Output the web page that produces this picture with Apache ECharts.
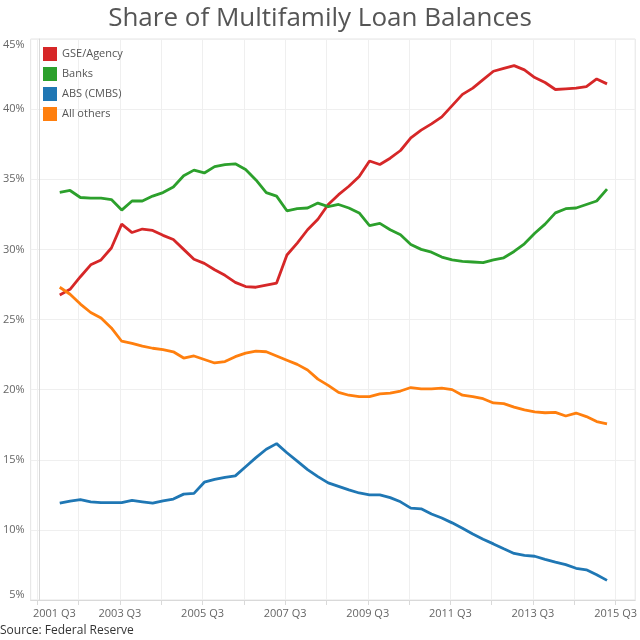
<!DOCTYPE html>
<html>
<head>
<meta charset="utf-8">
<script src="https://cdn.jsdelivr.net/npm/echarts@6/dist/echarts.min.js"></script>
<style>
  html, body { margin: 0; padding: 0; background: #fff; }
  #chart { width: 640px; height: 640px; }
</style>
</head>
<body>
<div id="chart"></div>
<script>
// quarters counted from 2001 Q3 (= 0); data run 2002 Q1 .. 2015 Q2
const firstQuarter = 2
const tickShift = 0.17 // tableau puts the quarter ticks a bit before the points
const seriesNames = ['GSE/Agency', 'Banks', 'ABS (CMBS)', 'All others']
const seriesColors = ['#d62728', '#2ca02c', '#1f77b4', '#ff7f0e']
const tickLabels = ['2001 Q3', '2003 Q3', '2005 Q3', '2007 Q3', '2009 Q3', '2011 Q3', '2013 Q3', '2015 Q3']

const gseAgency = [
  26.75, 27.15, 28.05, 28.9, 29.25, 30.1, 31.8, 31.2, 31.45, 31.35,
  31.0, 30.7, 30.0, 29.3, 29.0, 28.55, 28.15, 27.65, 27.35, 27.3,
  27.45, 27.6, 29.6, 30.45, 31.4, 32.15, 33.2, 33.9, 34.5, 35.2,
  36.3, 36.05, 36.5, 37.05, 37.95, 38.5, 38.95, 39.45, 40.25, 41.05,
  41.5, 42.1, 42.7, 42.9, 43.1, 42.8, 42.25, 41.9, 41.4, 41.45,
  41.5, 41.6, 42.15, 41.8
]
const banks = [
  34.07, 34.2, 33.7, 33.65, 33.65, 33.55, 32.8, 33.45, 33.45, 33.8,
  34.05, 34.45, 35.25, 35.65, 35.45, 35.9, 36.05, 36.1, 35.7, 34.95,
  34.05, 33.8, 32.75, 32.9, 32.95, 33.3, 33.05, 33.2, 32.95, 32.6,
  31.7, 31.85, 31.4, 31.05, 30.35, 30.0, 29.8, 29.45, 29.25, 29.15,
  29.1, 29.05, 29.25, 29.4, 29.85, 30.4, 31.15, 31.8, 32.6, 32.9,
  32.95, 33.2, 33.45, 34.3
]
const absCmbs = [
  11.9, 12.05, 12.15, 12.0, 11.95, 11.95, 11.95, 12.1, 12.0, 11.9,
  12.07, 12.2, 12.55, 12.6, 13.4, 13.6, 13.75, 13.85, 14.5, 15.15,
  15.75, 16.15, 15.5, 14.9, 14.3, 13.8, 13.35, 13.1, 12.85, 12.63,
  12.5, 12.5, 12.3, 12.0, 11.55, 11.5, 11.13, 10.85, 10.5, 10.12,
  9.7, 9.33, 9.0, 8.65, 8.32, 8.18, 8.12, 7.9, 7.7, 7.52,
  7.26, 7.15, 6.8, 6.4
]
const allOthers = [
  27.3, 26.8, 26.1, 25.5, 25.1, 24.4, 23.45, 23.3, 23.1, 22.95,
  22.85, 22.7, 22.25, 22.4, 22.15, 21.9, 22.0, 22.35, 22.6, 22.75,
  22.7, 22.4, 22.1, 21.8, 21.4, 20.75, 20.3, 19.8, 19.6, 19.5,
  19.5, 19.7, 19.75, 19.9, 20.15, 20.05, 20.05, 20.1, 20.0, 19.6,
  19.5, 19.35, 19.05, 19.0, 18.75, 18.55, 18.42, 18.35, 18.38, 18.12,
  18.33, 18.08, 17.72, 17.56
]

const chart = echarts.init(document.getElementById('chart'))

const yearTicks = []
for (let k = 0; k <= 14; k++) yearTicks.push(k * 4 - tickShift)
const labelTicks = []
for (let k = 0; k < tickLabels.length; k++) labelTicks.push(k * 8 - tickShift)

function toPoints(values) {
  return values.map((v, idx) => [firstQuarter + idx, v])
}

const font = 'Open Sans'
const option = {
  animation: false,
  title: {
    text: 'Share of Multifamily Loan Balances',
    left: 'center',
    top: 1,
    textStyle: { fontFamily: font, fontSize: 26, fontWeight: 'normal', color: '#555' },
  },
  legend: {
    orient: 'vertical',
    left: 43,
    top: 47,
    padding: 0,
    itemWidth: 14,
    itemHeight: 14,
    itemGap: 6,
    icon: 'rect',
    data: seriesNames,
    textStyle: { fontFamily: font, fontSize: 11, color: '#555' },
  },
  graphic: [{
    type: 'text',
    left: 0,
    top: 625,
    style: { text: 'Source: Federal Reserve', fontFamily: font, fontSize: 12, fill: '#333' },
  }],
  grid: {
    left: 30, right: 2, top: 39, bottom: 40,
    show: true, borderColor: '#e4e4e4', borderWidth: 1,
  },
  xAxis: {
    type: 'value',
    min: -0.645 - tickShift,
    max: 57.9 - tickShift,
    axisLine: { show: true, lineStyle: { color: '#d9d9d9' } },
    axisTick: { show: true, length: 5, customValues: yearTicks, lineStyle: { color: '#d9d9d9' } },
    splitLine: { show: true, lineStyle: { color: '#efefef' } },
    axisLabel: {
      customValues: labelTicks,
      margin: 8,
      fontFamily: font,
      fontSize: 11,
      color: '#666',
      formatter: function (v) {
        const idx = Math.round((v + tickShift) / 8)
        return idx === 0 ? '{first|' + tickLabels[idx] + '}' : tickLabels[idx]
      },
      rich: { first: { padding: [0, 0, 0, 34], fontFamily: font, fontSize: 11, color: '#666' } },
    },
  },
  yAxis: {
    type: 'value',
    min: 5,
    max: 45,
    interval: 5,
    axisLine: { show: true, lineStyle: { color: '#d9d9d9' } },
    axisTick: { show: false },
    splitLine: { lineStyle: { color: '#efefef' } },
    axisLabel: {
      formatter: '{value}%',
      margin: 6,
      fontFamily: font,
      fontSize: 11,
      color: '#666',
      verticalAlignMaxLabel: 'top',
      verticalAlignMinLabel: 'bottom',
    },
  },
  series: [gseAgency, banks, absCmbs, allOthers].map((vals, k) => ({
    name: seriesNames[k],
    type: 'line',
    data: toPoints(vals),
    showSymbol: false,
    symbol: 'none',
    color: seriesColors[k],
    lineStyle: { width: 2.8, color: seriesColors[k] },
  })),
}

chart.setOption(option)
</script>
</body>
</html>
